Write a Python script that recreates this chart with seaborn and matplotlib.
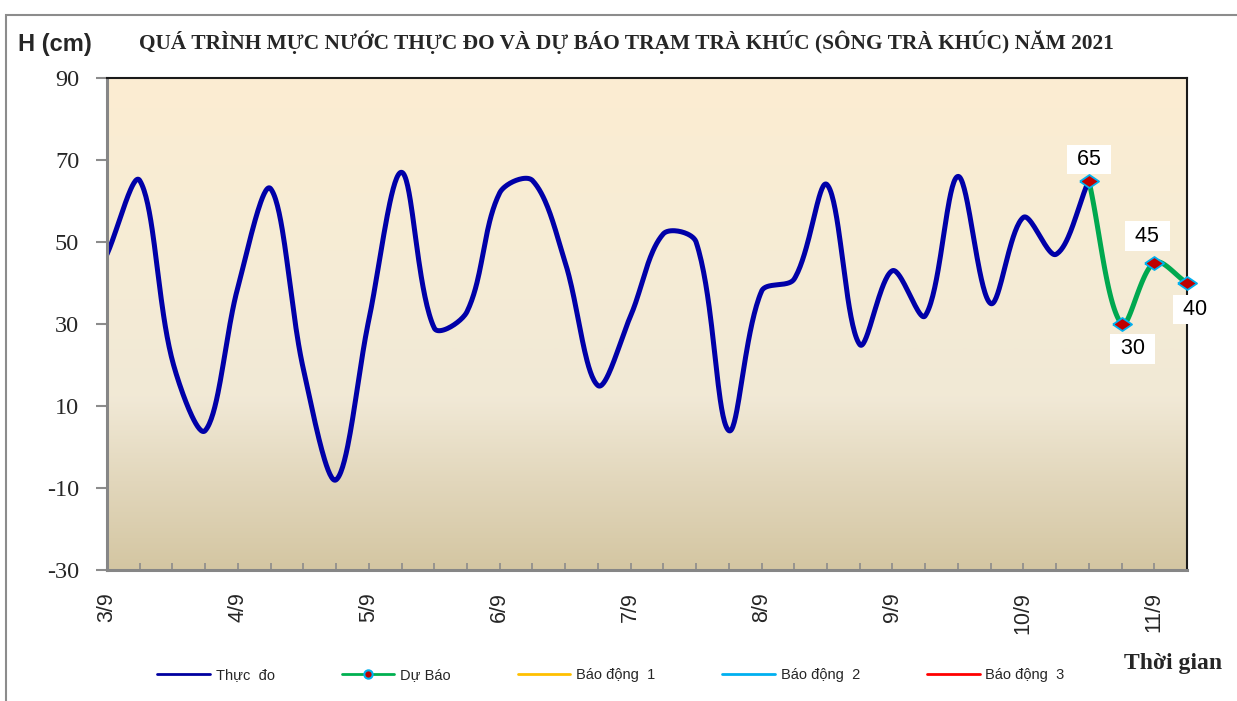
import numpy as np
import pandas as pd
import matplotlib
matplotlib.use("Agg")
import matplotlib.pyplot as plt
import seaborn as sns
from matplotlib.lines import Line2D
from matplotlib.patches import Rectangle

# ---------------- data ----------------
step_hours = 6
observed_level = [47, 65, 21, 4, 39, 63, 19, -8, 31, 67,
                  29, 33, 62, 65, 45, 15, 32, 52, 50, 4,
                  38, 41, 64, 25, 43, 32, 66, 35, 56, 47, 65]
forecast_level = [65, 30, 45, 40]
forecast_start_index = 30
day_labels = ["3/9", "4/9", "5/9", "6/9", "7/9", "8/9", "9/9", "10/9", "11/9"]
y_ticks = [-30, -10, 10, 30, 50, 70, 90]
legend_labels = ["Thực  đo", "Dự Báo", "Báo động  1", "Báo động  2", "Báo động  3"]
legend_colors = ["#0000A0", "#00B050", "#FFC000", "#00B0F0", "#FF0000"]
title = "QUÁ TRÌNH MỰC NƯỚC THỰC ĐO VÀ DỰ BÁO TRẠM TRÀ KHÚC (SÔNG TRÀ KHÚC) NĂM 2021"

obs_df = pd.DataFrame({"idx": np.arange(len(observed_level)), "level": observed_level})
obs_df["day"] = obs_df["idx"] * step_hours / 24.0
fc_df = pd.DataFrame({"idx": forecast_start_index + np.arange(len(forecast_level)),
                      "level": forecast_level})
fc_df["day"] = fc_df["idx"] * step_hours / 24.0


def smooth_curve(ax, x, y, n=40):
    """Bezier smoothing through every point, control arms weighted by on-screen chord length."""
    pts = ax.transData.transform(np.column_stack([np.asarray(x, float), np.asarray(y, float)]))
    m = len(pts)
    seg = np.linalg.norm(np.diff(pts, axis=0), axis=1)
    c_out = np.zeros_like(pts)
    c_in = np.zeros_like(pts)
    for i in range(m):
        prev_p = pts[i - 1] if i > 0 else pts[i]
        next_p = pts[i + 1] if i < m - 1 else pts[i]
        d = next_p - prev_p
        l_in = seg[i - 1] if i > 0 else 0.0
        l_out = seg[i] if i < m - 1 else 0.0
        tot = l_in + l_out if (l_in + l_out) > 0 else 1.0
        c_out[i] = pts[i] + d * (l_out / tot) / 3.0
        c_in[i] = pts[i] - d * (l_in / tot) / 3.0
    t = np.linspace(0, 1, n)[:, None]
    out = []
    for i in range(m - 1):
        p1, p2 = pts[i], pts[i + 1]
        a, b = c_out[i], c_in[i + 1]
        bz = ((1 - t) ** 3) * p1 + 3 * ((1 - t) ** 2) * t * a + 3 * (1 - t) * t ** 2 * b + t ** 3 * p2
        out.append(bz if i == 0 else bz[1:])
    out = np.vstack(out)
    data = ax.transData.inverted().transform(out)
    return data[:, 0], data[:, 1]


# ---------------- figure ----------------
sns.set_theme(style="white")
plt.rcParams["font.family"] = ["Liberation Sans", "DejaVu Sans"]

fig = plt.figure(figsize=(12.37, 7.01), dpi=100)
ax = fig.add_axes([107 / 1237, 1 - 570 / 701, 1080 / 1237, 492 / 701])

x_max = 8.25
y_min, y_max = -30, 90
ax.set_xlim(0, x_max)
ax.set_ylim(y_min, y_max)

# gradient background
stops = np.array([[252, 237, 210], [246, 236, 213], [241, 233, 214], [226, 215, 188], [212, 198, 162]]) / 255.0
pos = np.array([0.0, 0.35, 0.65, 0.82, 1.0])
g = np.linspace(0, 1, 256)
grad = np.stack([np.interp(g, pos, stops[:, c]) for c in range(3)], axis=1)[:, None, :]
ax.imshow(grad, extent=[0, x_max, y_min, y_max], aspect="auto", origin="upper", zorder=0,
          interpolation="bilinear")
ax.set_xlim(0, x_max)
ax.set_ylim(y_min, y_max)

# observed line
sx, sy = smooth_curve(ax, obs_df["day"], obs_df["level"])
sns.lineplot(x=sx, y=sy, ax=ax, sort=False, estimator=None, color="#0000A8",
             linewidth=3.6, zorder=3)

# forecast line
fx, fy = smooth_curve(ax, fc_df["day"], fc_df["level"])
sns.lineplot(x=fx, y=fy, ax=ax, sort=False, estimator=None, color="#00A84F",
             linewidth=3.6, zorder=4)

diamond = [(-1, 0), (0, 0.68), (1, 0), (0, -0.68), (-1, 0)]
sns.scatterplot(data=fc_df, x="day", y="level", ax=ax, marker=diamond, s=190,
                color="#C00000", edgecolor="#00B0F0", linewidth=1.3, zorder=6, clip_on=False)

# value labels
offsets = [(0, 15), (8, -18), (-5, 19), (6, -19)]
for (_, r), off in zip(fc_df.iterrows(), offsets):
    ax.annotate(f" {int(r['level'])} ", xy=(r["day"], r["level"]), xytext=off,
                textcoords="offset points", ha="center", va="center", fontsize=15.5,
                fontfamily="Liberation Sans", color="black", zorder=10,
                annotation_clip=False,
                bbox=dict(boxstyle="square,pad=0.2", fc="white", ec="none"))

ax.set_xlim(0, x_max)
ax.set_ylim(y_min, y_max)
ax.set_xlabel("")
ax.set_ylabel("")

ax.set_xticks(np.arange(len(day_labels)))
ax.set_xticklabels(day_labels, rotation=90, fontsize=15.5, fontfamily="Liberation Sans")
ax.set_xticks(np.arange(0, x_max + 0.01, 0.25), minor=True)
ax.tick_params(axis="x", which="both", direction="in", length=5, width=1.2,
               color="#8C8C8C", pad=16, bottom=True)
for lbl in ax.get_xticklabels():
    lbl.set_va("top")

ax.set_yticks(y_ticks)
ax.set_yticklabels([str(v) for v in y_ticks], fontsize=17.5, fontfamily="Liberation Serif")
ax.tick_params(axis="y", which="major", direction="out", length=8, width=1.5,
               color="#8C8C8C", pad=12, left=True)
ax.grid(False)

for side in ["left", "bottom"]:
    ax.spines[side].set_color("#868686")
    ax.spines[side].set_linewidth(2.2)
for side in ["top", "right"]:
    ax.spines[side].set_color("#1A1A1A")
    ax.spines[side].set_linewidth(1.5)
for s in ax.spines.values():
    s.set_zorder(5)

# texts
fig.text(626 / 1237, 1 - 42 / 701, title, ha="center", va="center", fontsize=15.4,
         fontweight="bold", fontfamily="Liberation Serif")
fig.text(18 / 1237, 1 - 45 / 701, "H (cm)", ha="left", va="center", fontsize=17,
         fontweight="bold", fontfamily="Liberation Sans")
fig.text(1222 / 1237, 1 - 663 / 701, "Thời gian", ha="right", va="center", fontsize=17,
         fontweight="bold", fontfamily="Liberation Serif")

# legend
handles = []
for lab, col in zip(legend_labels, legend_colors):
    if lab == "Dự Báo":
        h = Line2D([0], [0], color=col, lw=2, marker="o", markersize=6,
                   markerfacecolor="#C00000", markeredgecolor="#00B0F0", markeredgewidth=1.5)
    else:
        h = Line2D([0], [0], color=col, lw=2)
    handles.append(h)
fig.legend(handles, legend_labels, loc="center", bbox_to_anchor=(611 / 1237, 1 - 675 / 701),
           ncol=5, frameon=False, fontsize=10.5, handlelength=3.6, handletextpad=0.4,
           columnspacing=4.6)

# outer chart border
fig.add_artist(Rectangle((6 / 1237, -0.1), 1.2, 0.1 + (1 - 15 / 701), transform=fig.transFigure,
                         fill=False, ec="#8C8C8C", lw=1.5))

fig.savefig("out.png", dpi=100)
